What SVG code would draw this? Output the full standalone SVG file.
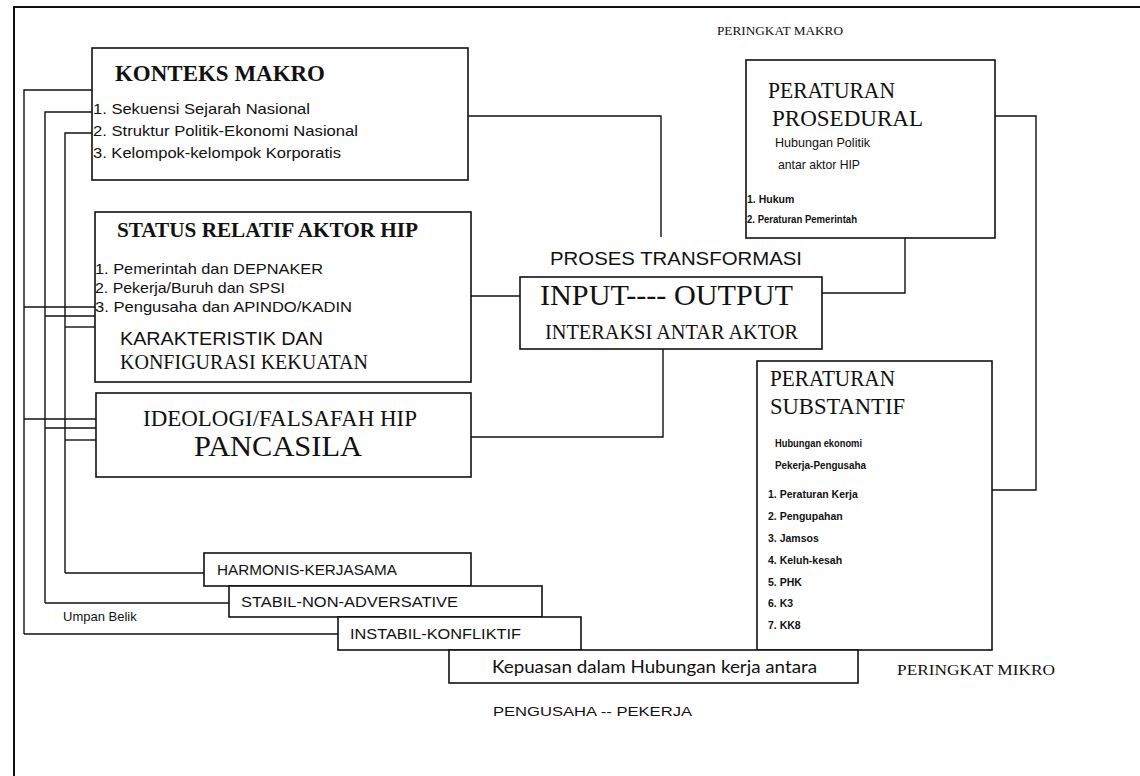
<svg xmlns="http://www.w3.org/2000/svg" width="1140" height="776" viewBox="0 0 1140 776">
<style>
.bg{fill:#fff}
.box{fill:#fff;stroke:#111;stroke-width:1.6}
.ln{fill:none;stroke:#111;stroke-width:1.4}
.frame{fill:none;stroke:#111;stroke-width:2}
.sans{font-family:"Liberation Sans",Arial,sans-serif;fill:#111}
.serif{font-family:"Liberation Serif","Times New Roman",serif;fill:#111}
.gill{font-family:Lato,"Open Sans","Liberation Sans",sans-serif;fill:#111}
.b{font-weight:bold}
.item{font-family:"Liberation Sans",Arial,sans-serif;font-weight:bold;font-size:10.5px;fill:#111}
</style>
<rect class="bg" x="0" y="0" width="1140" height="776"/>
<path class="frame" d="M14,776 V7 H1140"/>

<g id="connectors">
<path class="ln" d="M24,634 V90 H92"/>
<path class="ln" d="M24,307 H95"/>
<path class="ln" d="M24,419 H96"/>
<path class="ln" d="M24,634 H338"/>
<path class="ln" d="M45,603 V112 H92"/>
<path class="ln" d="M45,316 H95"/>
<path class="ln" d="M45,428 H96"/>
<path class="ln" d="M45,603 H229"/>
<path class="ln" d="M65,573 V133 H92"/>
<path class="ln" d="M65,327 H95"/>
<path class="ln" d="M65,440 H96"/>
<path class="ln" d="M65,573 H204"/>
<path class="ln" d="M468,116 H661 V237"/>
<path class="ln" d="M471,296 H520"/>
<path class="ln" d="M663,349 V437 H471"/>
<path class="ln" d="M822,293 H905 V238"/>
<path class="ln" d="M995,116 H1036 V490 H992"/>
</g>

<g id="konteks-makro">
<rect class="box" x="92" y="48" width="376" height="132"/>
<text class="serif b" x="115" y="81" font-size="23" textLength="210" lengthAdjust="spacingAndGlyphs">KONTEKS MAKRO</text>
<text class="sans" x="93" y="114" font-size="15" textLength="217" lengthAdjust="spacingAndGlyphs">1. Sekuensi Sejarah Nasional</text>
<text class="sans" x="93" y="136" font-size="15" textLength="265" lengthAdjust="spacingAndGlyphs">2. Struktur Politik-Ekonomi Nasional</text>
<text class="sans" x="93" y="158" font-size="15" textLength="248" lengthAdjust="spacingAndGlyphs">3. Kelompok-kelompok Korporatis</text>
</g>

<g id="status-relatif">
<rect class="box" x="95" y="212" width="376" height="170"/>
<text class="serif b" x="117" y="237" font-size="21" textLength="301" lengthAdjust="spacingAndGlyphs">STATUS RELATIF AKTOR  HIP</text>
<text class="sans" x="95" y="274" font-size="15" textLength="228" lengthAdjust="spacingAndGlyphs">1. Pemerintah dan DEPNAKER</text>
<text class="sans" x="95" y="293" font-size="15" textLength="190" lengthAdjust="spacingAndGlyphs">2. Pekerja/Buruh dan SPSI</text>
<text class="sans" x="95" y="312" font-size="15" textLength="257" lengthAdjust="spacingAndGlyphs">3. Pengusaha dan APINDO/KADIN</text>
<text class="sans" x="120" y="345" font-size="19" textLength="203" lengthAdjust="spacingAndGlyphs">KARAKTERISTIK DAN</text>
<text class="serif" x="120" y="369" font-size="20" textLength="248" lengthAdjust="spacingAndGlyphs">KONFIGURASI KEKUATAN</text>
</g>

<g id="ideologi">
<rect class="box" x="96" y="393" width="375" height="84"/>
<text class="serif" x="143" y="426" font-size="22.5" textLength="274" lengthAdjust="spacingAndGlyphs">IDEOLOGI/FALSAFAH HIP</text>
<text class="serif" x="194" y="456" font-size="30" textLength="168" lengthAdjust="spacingAndGlyphs">PANCASILA</text>
</g>

<g id="proses-transformasi">
<text class="sans" x="550" y="265" font-size="18" textLength="252" lengthAdjust="spacingAndGlyphs">PROSES TRANSFORMASI</text>
<rect class="box" x="520" y="277" width="302" height="72"/>
<text class="serif" x="540" y="305" font-size="30" textLength="253" lengthAdjust="spacingAndGlyphs">INPUT---- OUTPUT</text>
<text class="serif" x="545" y="339" font-size="20" textLength="253" lengthAdjust="spacingAndGlyphs">INTERAKSI ANTAR AKTOR</text>
</g>

<g id="peringkat-makro">
<text class="serif" x="717" y="35" font-size="13.5" textLength="126" lengthAdjust="spacingAndGlyphs">PERINGKAT MAKRO</text>
</g>

<g id="peraturan-prosedural">
<rect class="box" x="746" y="60" width="249" height="178"/>
<text class="serif" x="768" y="98" font-size="22.5" textLength="127" lengthAdjust="spacingAndGlyphs">PERATURAN</text>
<text class="serif" x="772" y="126" font-size="22.5" textLength="151" lengthAdjust="spacingAndGlyphs">PROSEDURAL</text>
<text class="sans" x="775" y="147" font-size="13" textLength="95" lengthAdjust="spacingAndGlyphs">Hubungan Politik</text>
<text class="sans" x="778" y="169" font-size="13" textLength="82" lengthAdjust="spacingAndGlyphs">antar aktor HIP</text>
<text class="item" x="747" y="203">1. Hukum</text>
<text class="item" x="747" y="223" textLength="110" lengthAdjust="spacingAndGlyphs">2. Peraturan Pemerintah</text>
</g>

<g id="peraturan-substantif">
<rect class="box" x="757" y="361" width="235" height="289"/>
<text class="serif" x="770" y="386" font-size="22.5" textLength="125" lengthAdjust="spacingAndGlyphs">PERATURAN</text>
<text class="serif" x="770" y="414" font-size="22.5" textLength="135" lengthAdjust="spacingAndGlyphs">SUBSTANTIF</text>
<text class="item" x="775" y="447" textLength="87" lengthAdjust="spacingAndGlyphs">Hubungan ekonomi</text>
<text class="item" x="775" y="469" textLength="91" lengthAdjust="spacingAndGlyphs">Pekerja-Pengusaha</text>
<text class="item" x="768" y="498">1. Peraturan Kerja</text>
<text class="item" x="768" y="520">2. Pengupahan</text>
<text class="item" x="768" y="542">3. Jamsos</text>
<text class="item" x="768" y="564">4. Keluh-kesah</text>
<text class="item" x="768" y="586">5. PHK</text>
<text class="item" x="768" y="607">6. K3</text>
<text class="item" x="768" y="629">7. KK8</text>
</g>

<g id="peringkat-mikro">
<text class="serif" x="897" y="675" font-size="15" textLength="158" lengthAdjust="spacingAndGlyphs">PERINGKAT MIKRO</text>
</g>

<g id="harmonis">
<rect class="box" x="204" y="553" width="267" height="33"/>
<text class="sans" x="217" y="575" font-size="15" textLength="180" lengthAdjust="spacingAndGlyphs">HARMONIS-KERJASAMA</text>
</g>

<g id="stabil">
<rect class="box" x="229" y="586" width="313" height="31"/>
<text class="sans" x="241" y="607" font-size="15" textLength="217" lengthAdjust="spacingAndGlyphs">STABIL-NON-ADVERSATIVE</text>
</g>

<g id="instabil">
<rect class="box" x="338" y="617" width="243" height="33"/>
<text class="sans" x="350" y="639" font-size="15" textLength="171" lengthAdjust="spacingAndGlyphs">INSTABIL-KONFLIKTIF</text>
</g>

<g id="umpan-balik">
<text class="sans" x="63" y="621" font-size="13">Umpan Belik</text>
</g>

<g id="kepuasan">
<rect class="box" x="449" y="650" width="409" height="33"/>
<text class="gill" x="492" y="673" font-size="18" textLength="325" lengthAdjust="spacingAndGlyphs">Kepuasan dalam Hubungan kerja antara</text>
</g>

<g id="pengusaha-pekerja">
<text class="sans" x="493" y="716" font-size="13.5" textLength="199" lengthAdjust="spacingAndGlyphs">PENGUSAHA -- PEKERJA</text>
</g>
</svg>
